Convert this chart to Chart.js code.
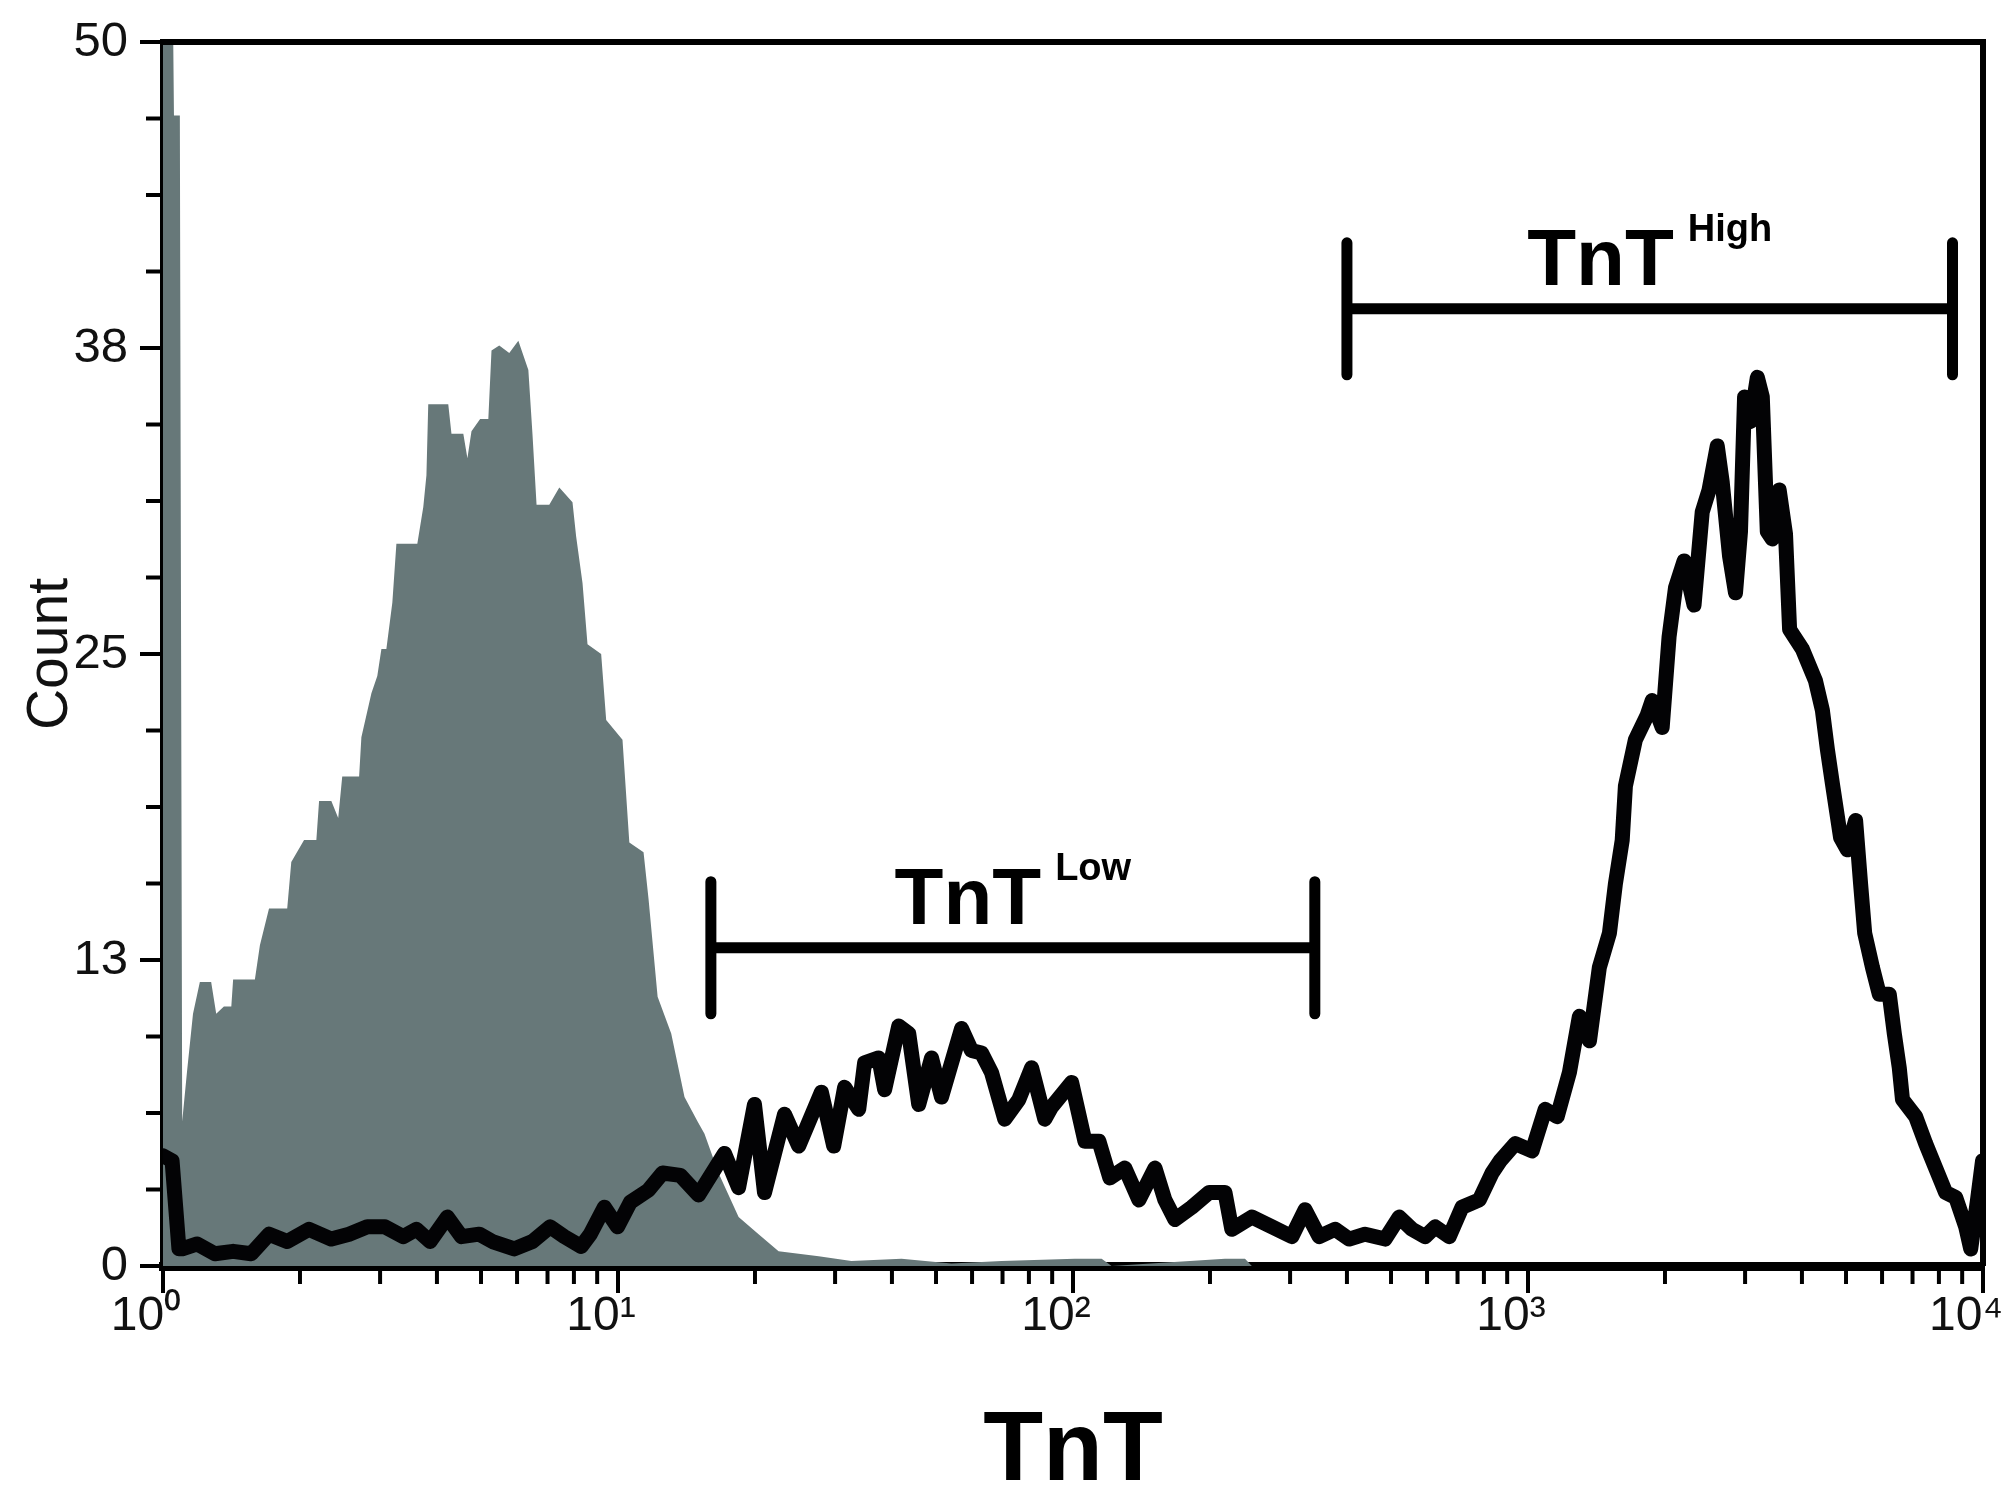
<!DOCTYPE html>
<html>
<head>
<meta charset="utf-8">
<script src="https://cdn.jsdelivr.net/npm/chart.js@4.4.0/dist/chart.umd.min.js"></script>
<style>
html,body{margin:0;padding:0;background:#ffffff;}
#wrap{width:2005px;height:1500px;position:relative;}
</style>
</head>
<body>
<div id="wrap"><canvas id="c" width="2005" height="1500"></canvas></div>
<script>
// ---------- data ----------
// Control (gray filled histogram)
const controlX = [1.0,1.047,1.057,1.089,1.102,1.130,1.164,1.205,1.276,1.309,1.361,1.413,1.426,1.592,1.633,1.710,1.875,1.914,2.042,2.173,2.203,2.344,2.427,2.477,2.698,2.729,2.871,2.958,3.020,3.097,3.192,3.258,3.622,3.733,3.793,3.828,4.236,4.305,4.571,4.667,4.764,4.977,5.188,5.272,5.483,5.768,6.039,6.353,6.486,6.622,7.063,7.430,7.943,8.091,8.356,8.570,9.183,9.419,10.23,10.59,11.38,11.67,12.22,13.09,14.00,14.96,15.49,16.63,18.41,20.37,22.54,27.61,32.58,41.98,54.08,69.66,100.9,115.6,121.6,215.8,238.8,247.2,10000];
const controlY = [55,55,47,47,5.9,8.0,10.3,11.6,11.6,10.3,10.6,10.6,11.7,11.7,13.1,14.6,14.6,16.5,17.4,17.4,19.0,19.0,18.3,20.0,20.0,21.6,23.4,24.1,25.2,25.2,27.1,29.5,29.5,31.0,32.3,35.2,35.2,34.0,34.0,33.0,34.1,34.6,34.6,37.4,37.6,37.3,37.8,36.6,34.0,31.1,31.1,31.8,31.2,29.8,27.9,25.4,25.0,22.3,21.5,17.3,16.9,15.0,11.0,9.5,6.9,5.9,5.4,3.8,2.0,1.3,0.6,0.4,0.2,0.3,0.1,0.2,0.3,0.3,0,0.3,0.3,0,0];

// Sample (black line histogram)
const sampleX = [1.0,1.047,1.084,1.102,1.189,1.300,1.426,1.563,1.710,1.875,
2.094,2.344,2.564,2.812,3.076,3.373,3.606,3.864,4.217,4.529,
4.955,5.297,5.916,6.486,7.096,7.621,8.299,8.690,9.333,9.977,
10.64,11.67,12.53,13.71,15.03,17.14,18.41,19.95,20.99,23.23,
24.95,27.99,29.79,31.48,33.81,34.83,37.41,38.55,41.40,43.55,
45.81,48.87,51.40,56.89,59.84,62.95,66.22,70.79,76.03,81.10,
86.70,89.74,99.31,106.2,114.0,120.5,130.0,139.6,151.4,159.2,
167.5,182.4,199.1,215.8,223.4,247.2,273.5,302.7,323.6,347.5,
376.7,404.6,438.5,485.3,521.2,555.9,594.3,625.2,671.4,716.1,
781.6,833.7,869.0,937.6,1021,1091,1159,1233,1297,1365,
1435,1510,1556,1611,1637,1722,1828,1875,1972,2042,
2109,2203,2317,2415,2500,2606,2673,2773,2858,2931,
2992,3083,3192,3273,3357,3443,3565,3681,3758,4009,
4285,4436,4550,4667,4864,5035,5248,5383,5495,5715,
5916,6223,6383,6546,6653,7112,7482,7870,8279,8710,
9162,9397,9727,9977];
const sampleY = [4.5,4.3,0.7,0.7,0.9,0.5,0.6,0.5,1.3,1.0,
1.5,1.1,1.3,1.6,1.6,1.2,1.5,1.0,2.0,1.2,
1.3,1.0,0.7,1.0,1.6,1.2,0.8,1.3,2.4,1.6,
2.6,3.1,3.8,3.7,2.9,4.6,3.2,6.6,3.0,6.2,
4.9,7.1,4.9,7.3,6.4,8.3,8.5,7.2,9.8,9.5,
6.6,8.5,6.9,9.7,8.8,8.7,7.9,6.0,6.8,8.1,
6.0,6.5,7.5,5.1,5.1,3.6,4.0,2.7,4.0,2.7,
1.9,2.4,3.0,3.0,1.5,2.0,1.6,1.2,2.3,1.2,
1.5,1.1,1.3,1.1,2.0,1.5,1.2,1.6,1.2,2.4,
2.7,3.8,4.3,5.0,4.7,6.4,6.1,7.9,10.2,9.2,
12.2,13.6,15.6,17.4,19.6,21.5,22.5,23.1,22.0,25.7,
27.7,28.8,27.0,30.8,31.7,33.5,32.0,29.0,27.5,30.0,
35.5,34.5,36.3,35.5,30.0,29.7,31.7,29.9,26.0,25.2,
23.9,22.7,21.1,19.7,17.5,17.0,18.2,15.6,13.6,12.2,
11.1,11.1,9.5,8.1,6.8,6.1,5.0,4.0,3.0,2.8,
1.6,0.7,2.7,4.3];

// Axis ticks
const xTickValues = [1,2,3,4,5,6,7,8,9,10,20,30,40,50,60,70,80,90,100,200,300,400,500,600,700,800,900,1000,2000,3000,4000,5000,6000,7000,8000,9000,10000];
const xMajorValues = [1,10,100,1000,10000];
const xMajorLabels = ['10\u2070','10\u00B9','10\u00B2','10\u00B3','10\u2074'];
const yTickValues = [0,3.125,6.25,9.375,12.5,15.625,18.75,21.875,25,28.125,31.25,34.375,37.5,40.625,43.75,46.875,50];
const yMajorValues = [0,12.5,25,37.5,50];
const yMajorLabels = ['0','13','25','38','50'];

// Gates (TnT Low / TnT High)
const gateNames = ['Low','High'];
const gateFrom = [16.0, 400];
const gateTo = [340, 8570];
const gateLevel = [13.0, 39.1];

// ---------- chart ----------
const FONT = '"Liberation Sans", Arial, Helvetica, sans-serif';
Chart.defaults.font.family = FONT;
Chart.defaults.color = '#111';

const toPoints = (xs, ys) => xs.slice(0, Math.min(xs.length, ys.length)).map((x, i) => ({x: x, y: ys[i]}));
const noPad = s => { s.paddingTop = 0; s.paddingBottom = 0; s.paddingLeft = 0; s.paddingRight = 0; };

const decor = {
  id: 'decor',
  afterDraw(chart) {
    const {ctx, chartArea: a, scales: {x, y}} = chart;
    ctx.save();
    ctx.strokeStyle = '#000';
    ctx.lineCap = 'butt';
    // x ticks (outward)
    ctx.lineWidth = 4;
    xTickValues.forEach(v => {
      const px = x.getPixelForValue(v);
      const major = xMajorValues.includes(v);
      ctx.beginPath();
      ctx.moveTo(px, a.bottom);
      ctx.lineTo(px, a.bottom + (major ? 27 : 18));
      ctx.stroke();
    });
    // y ticks (outward)
    yTickValues.forEach(v => {
      const py = y.getPixelForValue(v);
      const major = yMajorValues.includes(v);
      ctx.beginPath();
      ctx.moveTo(a.left, py);
      ctx.lineTo(a.left - (major ? 23 : 17), py);
      ctx.stroke();
    });
    // top / right frame
    ctx.lineWidth = 6;
    ctx.beginPath();
    ctx.moveTo(a.left, a.top);
    ctx.lineTo(a.right, a.top);
    ctx.lineTo(a.right, a.bottom);
    ctx.stroke();
    // gates
    gateNames.forEach((name, i) => {
      const x1 = x.getPixelForValue(gateFrom[i]);
      const x2 = x.getPixelForValue(gateTo[i]);
      const yy = y.getPixelForValue(gateLevel[i]);
      ctx.lineWidth = 11;
      ctx.lineCap = 'round';
      ctx.beginPath();
      ctx.moveTo(x1, yy - 66); ctx.lineTo(x1, yy + 66);
      ctx.moveTo(x2, yy - 66); ctx.lineTo(x2, yy + 66);
      ctx.stroke();
      ctx.lineCap = 'butt';
      ctx.beginPath();
      ctx.moveTo(x1, yy); ctx.lineTo(x2, yy);
      ctx.stroke();
      // label
      const mainFont = 'bold 80px ' + FONT;
      const supFont = 'bold 38px ' + FONT;
      ctx.font = mainFont;
      const wT = ctx.measureText('TnT').width;
      ctx.font = supFont;
      const wS = ctx.measureText(name).width;
      const gap = 14;
      const start = (x1 + x2) / 2 - (wT + gap + wS) / 2;
      ctx.fillStyle = '#000';
      ctx.textBaseline = 'alphabetic';
      ctx.textAlign = 'left';
      ctx.font = mainFont;
      ctx.fillText('TnT', start, yy - 24);
      ctx.font = supFont;
      ctx.fillText(name, start + wT + gap, yy - 68);
    });
    ctx.restore();
  }
};

new Chart(document.getElementById('c'), {
  type: 'line',
  data: {
    datasets: [
      {
        label: 'TnT sample',
        data: toPoints(sampleX, sampleY),
        borderColor: '#030305',
        borderWidth: 15,
        borderJoinStyle: 'round',
        borderCapStyle: 'round',
        pointRadius: 0,
        fill: false,
        tension: 0
      },
      {
        label: 'Control',
        data: toPoints(controlX, controlY),
        borderColor: '#677879',
        backgroundColor: '#677879',
        borderWidth: 0,
        pointRadius: 0,
        fill: 'origin',
        tension: 0
      }
    ]
  },
  options: {
    responsive: false,
    animation: false,
    devicePixelRatio: 1,
    layout: {autoPadding: false, padding: {top: 42, right: 22, left: 0, bottom: 0}},
    plugins: {legend: {display: false}, tooltip: {enabled: false}},
    scales: {
      x: {
        type: 'logarithmic',
        min: 1,
        max: 10000,
        afterBuildTicks: s => { s.ticks = xTickValues.map(v => ({value: v, major: xMajorValues.includes(v)})); },
        afterFit: s => { s.height = 234; noPad(s); },
        grid: {display: false, drawTicks: false},
        border: {display: true, color: '#000', width: 9},
        ticks: {
          autoSkip: false,
          maxRotation: 0,
          minRotation: 0,
          padding: 22,
          labelOffset: -17,
          font: {size: 48},
          color: '#111',
          callback: (v) => { const k = xMajorValues.indexOf(v); return k >= 0 ? xMajorLabels[k] : ''; }
        },
        title: {
          display: true,
          text: 'TnT',
          color: '#000',
          font: {size: 98, weight: 'bold', lineHeight: 0.9},
          padding: {top: 0, bottom: 3}
        }
      },
      y: {
        type: 'linear',
        min: 0,
        max: 50,
        afterBuildTicks: s => { s.ticks = yTickValues.map(v => ({value: v})); },
        afterFit: s => { s.width = 163; noPad(s); },
        grid: {display: false, drawTicks: false},
        border: {display: true, color: '#000', width: 7},
        ticks: {
          autoSkip: false,
          padding: 35,
          font: {size: 49},
          color: '#111',
          callback: (v) => { const k = yMajorValues.indexOf(v); return k >= 0 ? yMajorLabels[k] : ''; }
        },
        title: {
          display: true,
          text: 'Count',
          color: '#111',
          font: {size: 57, lineHeight: 1},
          padding: {top: 23, bottom: 0}
        }
      }
    }
  },
  plugins: [decor]
});
</script>
</body>
</html>
